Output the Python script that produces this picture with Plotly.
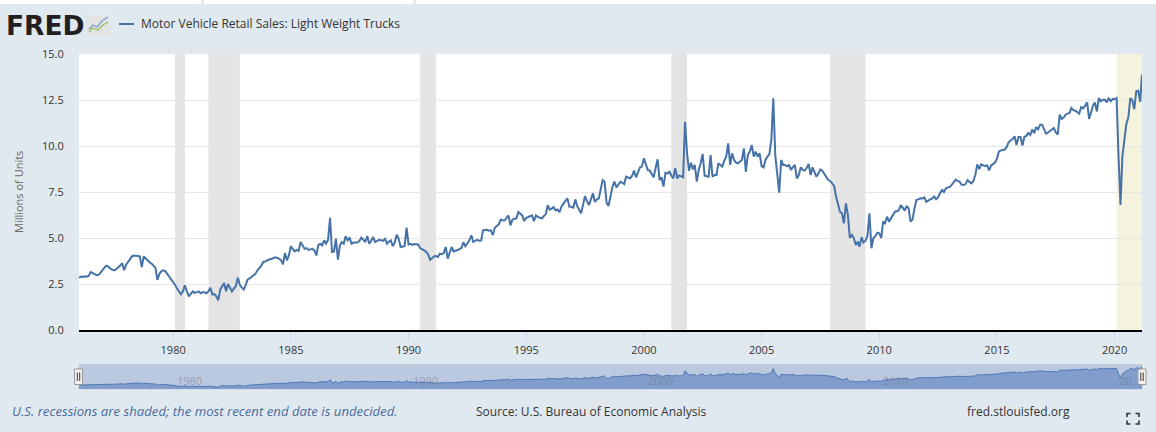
import pandas as pd
import plotly.graph_objects as go

# ---------------- data (monthly, millions of units, SAAR) ----------------
sales_1976_1980 = [
    2.85, 2.90, 2.88, 2.92, 2.90, 2.95, 3.15, 3.10, 3.05, 2.98, 3.00, 3.10,
    3.25, 3.40, 3.50, 3.45, 3.33, 3.28, 3.24, 3.30, 3.39, 3.50, 3.64, 3.25,
    3.55, 3.70, 3.88, 4.00, 4.05, 4.05, 4.02, 4.00, 3.42, 4.00, 3.88, 3.80,
    3.68, 3.60, 3.50, 3.39, 2.72, 3.05, 3.19, 3.24, 3.20, 3.05, 2.88, 2.80,
    2.62, 2.45, 2.25, 2.06, 1.94, 2.10, 2.43, 2.10, 1.83, 1.97, 2.10, 2.02,
]
sales_1981_1985 = [
    2.05, 2.10, 2.00, 2.05, 2.05, 2.00, 2.10, 2.30, 1.93, 1.95, 1.83, 1.61,
    2.20, 2.35, 2.55, 2.10, 2.50, 2.30, 2.10, 2.25, 2.40, 2.84, 2.45, 2.30,
    2.20, 2.45, 2.74, 2.80, 2.90, 2.97, 3.05, 3.24, 3.35, 3.50, 3.70, 3.72,
    3.79, 3.82, 3.85, 3.90, 3.95, 3.92, 3.88, 3.80, 3.57, 4.18, 3.79, 4.05,
    4.55, 4.40, 4.27, 4.35, 4.30, 4.78, 4.60, 4.41, 4.45, 4.35, 4.38, 4.41,
]
sales_1986_1990 = [
    4.33, 4.05, 4.60, 4.69, 4.60, 4.87, 4.70, 4.90, 6.10, 4.24, 4.27, 4.96,
    3.82, 4.60, 4.78, 4.69, 5.10, 4.87, 5.02, 4.69, 4.75, 4.73, 4.75, 4.85,
    5.02, 4.90, 4.78, 5.10, 4.69, 4.85, 5.05, 4.78, 4.85, 4.90, 4.88, 4.84,
    4.96, 4.69, 4.80, 4.87, 4.55, 4.75, 5.18, 4.96, 4.51, 4.55, 4.55, 5.56,
    4.65, 4.68, 4.62, 4.67, 4.66, 4.65, 4.44, 4.40, 4.33, 4.25, 4.11, 3.82,
]
sales_1991_1995 = [
    3.92, 4.00, 4.02, 3.97, 4.15, 4.12, 4.18, 4.51, 3.88, 4.25, 4.51, 4.27,
    4.30, 4.35, 4.40, 4.46, 4.77, 4.55, 4.70, 4.87, 5.15, 4.78, 4.85, 4.90,
    4.85, 4.87, 5.42, 5.45, 5.45, 5.40, 5.42, 5.15, 5.56, 5.65, 5.74, 6.00,
    5.95, 5.96, 6.10, 6.23, 5.69, 6.00, 6.05, 6.06, 6.41, 6.30, 6.23, 5.92,
    6.10, 6.14, 6.20, 6.23, 5.92, 6.23, 6.15, 6.10, 6.06, 6.19, 6.30, 6.78,
]
sales_1996_2000 = [
    6.54, 6.60, 6.68, 6.50, 6.55, 6.40, 6.70, 6.87, 7.05, 7.16, 6.70, 6.70,
    6.65, 7.10, 6.74, 6.55, 6.34, 6.80, 7.28, 7.00, 6.79, 7.10, 7.43, 6.97,
    7.10, 7.16, 7.60, 8.15, 8.06, 6.92, 6.74, 7.30, 7.79, 8.06, 7.75, 7.90,
    8.06, 8.00, 7.93, 8.33, 8.30, 8.24, 8.37, 8.66, 8.30, 8.55, 8.84, 8.88,
    9.33, 9.00, 8.70, 8.66, 8.50, 8.30, 8.80, 9.28, 8.15, 8.30, 7.79, 8.55,
]
sales_2001_2005 = [
    8.50, 8.60, 8.40, 8.24, 8.79, 8.24, 8.40, 8.35, 8.30, 11.32, 9.60, 8.66,
    9.09, 8.73, 8.97, 8.06, 8.70, 9.06, 9.57, 8.39, 8.36, 8.33, 9.51, 8.33,
    8.42, 8.42, 9.06, 8.95, 8.88, 9.20, 9.40, 10.14, 8.97, 9.60, 9.24, 9.10,
    9.06, 9.15, 9.24, 9.87, 8.60, 9.51, 9.70, 10.05, 9.42, 9.69, 9.42, 9.60,
    8.91, 8.84, 9.24, 9.42, 9.55, 10.33, 12.59, 9.50, 8.40, 7.46, 9.24, 8.97,
]
sales_2006_2010 = [
    8.97, 8.90, 8.97, 8.70, 8.85, 8.97, 8.24, 8.42, 8.84, 8.70, 8.66, 8.80,
    9.02, 8.42, 8.84, 8.60, 8.33, 8.50, 8.73, 8.66, 8.50, 8.30, 8.15, 8.10,
    7.97, 7.83, 7.25, 6.80, 6.43, 6.34, 5.80, 6.88, 6.25, 5.00, 5.17, 5.00,
    4.62, 4.80, 4.53, 5.04, 4.75, 4.85, 5.10, 6.34, 4.44, 5.00, 5.10, 5.29,
    5.26, 5.00, 5.89, 5.80, 6.16, 5.89, 6.07, 6.20, 6.43, 6.45, 6.52, 6.79,
]
sales_2011_2015 = [
    6.60, 6.49, 6.75, 6.61, 5.89, 6.00, 6.61, 7.07, 7.10, 7.16, 7.15, 7.21,
    6.97, 7.05, 7.10, 7.15, 7.25, 7.10, 7.20, 7.43, 7.61, 7.50, 7.70, 7.75,
    7.78, 7.90, 8.06, 8.17, 8.10, 8.06, 7.90, 7.88, 7.93, 8.15, 8.05, 7.97,
    8.10, 8.45, 9.00, 8.75, 9.00, 8.95, 8.90, 8.95, 8.68, 8.93, 9.00, 9.10,
    9.30, 9.70, 9.76, 9.78, 9.80, 9.95, 10.20, 10.30, 10.38, 10.53, 10.05, 10.49,
]
sales_2016_2021 = [
    10.49, 10.02, 10.49, 10.55, 10.70, 10.60, 10.89, 10.70, 11.03, 10.90, 11.16, 11.16,
    10.90, 10.67, 10.72, 10.80, 10.85, 10.98, 10.75, 10.62, 11.70, 11.47, 11.55, 11.70,
    11.76, 11.80, 12.07, 11.95, 11.92, 11.85, 11.76, 12.12, 12.05, 12.19, 12.37, 11.47,
    11.88, 12.20, 12.37, 11.88, 12.61, 12.43, 12.50, 12.52, 12.37, 12.61, 12.43, 12.55,
    12.55, 12.60, 9.50, 6.80, 9.45, 10.40, 11.20, 11.55, 12.60, 12.50, 12.00, 12.97,
    13.00, 12.40, 13.88,
]
series_start = "1976-01-01"

rec_start = ["1980-02-01", "1981-07-01", "1990-07-01", "2001-03-01", "2007-12-01"]
rec_end = ["1980-07-01", "1982-11-01", "1991-03-01", "2001-11-01", "2009-06-01"]
open_rec_start = "2020-02-01"

x_tick_years = [1980, 1985, 1990, 1995, 2000, 2005, 2010, 2015, 2020]
nav_label_years = [1980, 1990, 2000, 2010, 2020]
nav_labels = ["1980", "1990", "2000", "2010", "20…"]
y_ticks = [0.0, 2.5, 5.0, 7.5, 10.0, 12.5, 15.0]

title_text = "Motor Vehicle Retail Sales: Light Weight Trucks"
y_title = "Millions of Units"
note_text = "U.S. recessions are shaded; the most recent end date is undecided."
source_text = "Source: U.S. Bureau of Economic Analysis"
site_text = "fred.stlouisfed.org"

values = (sales_1976_1980 + sales_1981_1985 + sales_1986_1990 + sales_1991_1995
          + sales_1996_2000 + sales_2001_2005 + sales_2006_2010 + sales_2011_2015
          + sales_2016_2021)
dates = pd.date_range(series_start, periods=len(values), freq="MS")
x_start = dates[0]
x_end = dates[-1]

# ---------------- geometry helpers (pixel -> paper) ----------------
W, H = 1156, 432
ML, MR, MT, MB = 79, 14, 54, 43
PW, PH = W - ML - MR, H - MT - MB


def px(x):
    return (x - ML) / PW


def py(y):
    return (H - MB - y) / PH


LINE = "#4572a7"
BG = "#e1e9f0"

fig = go.Figure()

fig.add_trace(go.Scatter(x=dates, y=values, mode="lines",
                         line=dict(color=LINE, width=2), hoverinfo="skip",
                         xaxis="x", yaxis="y", showlegend=False))
fig.add_trace(go.Scatter(x=dates, y=values, mode="lines", fill="tozeroy",
                         fillcolor="#809dcb", line=dict(color="#4f78b3", width=1),
                         hoverinfo="skip", xaxis="x2", yaxis="y2", showlegend=False))

shapes = []
# white main plotting area
shapes.append(dict(type="rect", xref="paper", yref="y domain", x0=0, x1=1, y0=0, y1=1,
                   fillcolor="white", line=dict(width=0), layer="below"))
# recession bands
for s, e in zip(rec_start, rec_end):
    shapes.append(dict(type="rect", xref="x", yref="y domain", x0=s, x1=e, y0=0, y1=1,
                       fillcolor="#e4e4e4", line=dict(width=0), layer="below"))
shapes.append(dict(type="rect", xref="x", yref="y domain", x0=open_rec_start, x1=x_end,
                   y0=0, y1=1, fillcolor="#f5f3dd", line=dict(width=0), layer="below"))
# navigator background
shapes.append(dict(type="rect", xref="paper", yref="y2 domain", x0=0, x1=1, y0=0, y1=1,
                   fillcolor="#bac8e0", line=dict(color="#c8cfd8", width=1), layer="below"))
# navigator handles
for hx in (78.5, 1142):
    shapes.append(dict(type="rect", xref="paper", yref="paper",
                       x0=px(hx - 4), x1=px(hx + 4), y0=py(384.5), y1=py(369),
                       fillcolor="#f2f2f2", line=dict(color="#999999", width=1), layer="above"))
    for dx in (-1.2, 1.2):
        shapes.append(dict(type="line", xref="paper", yref="paper",
                           x0=px(hx + dx), x1=px(hx + dx), y0=py(381), y1=py(372.5),
                           line=dict(color="#333333", width=1), layer="above"))
# top page strips
for a, b in ((0, 201), (204, 413), (416, 1156)):
    shapes.append(dict(type="rect", xref="paper", yref="paper", x0=px(a), x1=px(b),
                       y0=py(4), y1=py(0), fillcolor="white", line=dict(width=0)))
# FRED icon
shapes.append(dict(type="rect", xref="paper", yref="paper", x0=px(87), x1=px(110),
                   y0=py(35), y1=py(15), fillcolor="#e3e3e3", line=dict(width=0)))


def path(points):
    return "M " + " L ".join(f"{px(a)},{py(b)}" for a, b in points)


shapes.append(dict(type="path", xref="paper", yref="paper",
                   path=path([(89, 29), (93, 25), (97, 27), (102, 21), (108, 17)]),
                   line=dict(color="#7d9ccf", width=1.3)))
shapes.append(dict(type="path", xref="paper", yref="paper",
                   path=path([(89, 32), (93, 28), (98, 30), (103, 25), (108, 22)]),
                   line=dict(color="#93c060", width=1.3)))
# legend line
shapes.append(dict(type="line", xref="paper", yref="paper", x0=px(119), x1=px(134),
                   y0=py(24), y1=py(24), line=dict(color=LINE, width=2)))
# full-screen icon corners
c = dict(color="#333333", width=1.6)
for (x0, y0, dx, dy) in ((1127, 413.5, 1, 1), (1139, 413.5, -1, 1),
                         (1127, 424, 1, -1), (1139, 424, -1, -1)):
    shapes.append(dict(type="path", xref="paper", yref="paper",
                       path=path([(x0 + 3.5 * dx, y0), (x0, y0), (x0, y0 + 3.5 * dy)]),
                       line=c))

annotations = []
annotations.append(dict(text="<b>FRED</b>", xref="paper", yref="paper", x=px(4), y=py(25),
                        xanchor="left", yanchor="middle", showarrow=False,
                        font=dict(family="DejaVu Sans", size=26.5, color="#231f20")))
annotations.append(dict(text=title_text, xref="paper", yref="paper", x=px(139), y=py(24),
                        xanchor="left", yanchor="middle", showarrow=False,
                        font=dict(family="Open Sans", size=12, color="#333333")))
annotations.append(dict(text=y_title, xref="paper", yref="paper", x=px(18), y=py(192),
                        xanchor="center", yanchor="middle", textangle=-90, showarrow=False,
                        font=dict(family="Open Sans", size=11, color="#666666")))
annotations.append(dict(text="<i>" + note_text + "</i>", xref="paper", yref="paper",
                        x=px(10), y=py(411), xanchor="left", yanchor="middle", showarrow=False,
                        font=dict(family="Open Sans", size=13.2, color="#4a6a9b")))
annotations.append(dict(text=source_text, xref="paper", yref="paper", x=px(474), y=py(411),
                        xanchor="left", yanchor="middle", showarrow=False,
                        font=dict(family="Open Sans", size=12, color="#333333")))
annotations.append(dict(text=site_text, xref="paper", yref="paper", x=px(965), y=py(411),
                        xanchor="left", yanchor="middle", showarrow=False,
                        font=dict(family="Open Sans", size=12, color="#333333")))
for yr, lab in zip(nav_label_years, nav_labels):
    annotations.append(dict(text=lab, xref="x2", yref="paper", x=f"{yr}-01-01", y=py(380),
                            xanchor="left", yanchor="middle", xshift=2, showarrow=False,
                            font=dict(family="Open Sans", size=11, color="rgba(110,120,135,0.55)")))

fig.update_layout(
    width=W, height=H,
    margin=dict(l=ML, r=MR, t=MT, b=MB, pad=0),
    paper_bgcolor=BG, plot_bgcolor=BG,
    font=dict(family="Open Sans", size=11, color="#333333"),
    showlegend=False,
    shapes=shapes, annotations=annotations,
    xaxis=dict(domain=[0, 1], anchor="y", range=[x_start, x_end], type="date",
               tickvals=[f"{y}-01-01" for y in x_tick_years],
               ticktext=[str(y) for y in x_tick_years],
               ticks="outside", ticklen=9, tickcolor="#ccd6eb", tickwidth=1,
               showline=True, linecolor="#000000", linewidth=2,
               showgrid=False, zeroline=False, fixedrange=True,
               tickfont=dict(size=11, color="#333333")),
    yaxis=dict(domain=[py(330), 1], anchor="x", range=[0, 15],
               tickvals=y_ticks, ticktext=[f"{v:.1f}" for v in y_ticks],
               ticks="outside", ticklen=12, tickcolor="rgba(0,0,0,0)",
               showgrid=True, gridcolor="#e6e6e6", gridwidth=1,
               showline=False, zeroline=False, fixedrange=True,
               tickfont=dict(size=11, color="#333333")),
    xaxis2=dict(domain=[0, 1], anchor="y2", range=[x_start, x_end], type="date",
                showticklabels=False, ticks="",
                tickvals=[f"{y}-01-01" for y in nav_label_years],
                showgrid=True, gridcolor="rgba(200,210,225,0.5)",
                showline=False, zeroline=False, fixedrange=True),
    yaxis2=dict(domain=[0, py(364.5)], anchor="x2", range=[0.5, 15],
                showticklabels=False, showgrid=False, zeroline=False,
                showline=False, fixedrange=True),
)

fig.write_html("out.html", config={"displayModeBar": False, "staticPlot": True},
               post_script="document.body.style.margin='0';document.body.style.overflow='hidden';")
